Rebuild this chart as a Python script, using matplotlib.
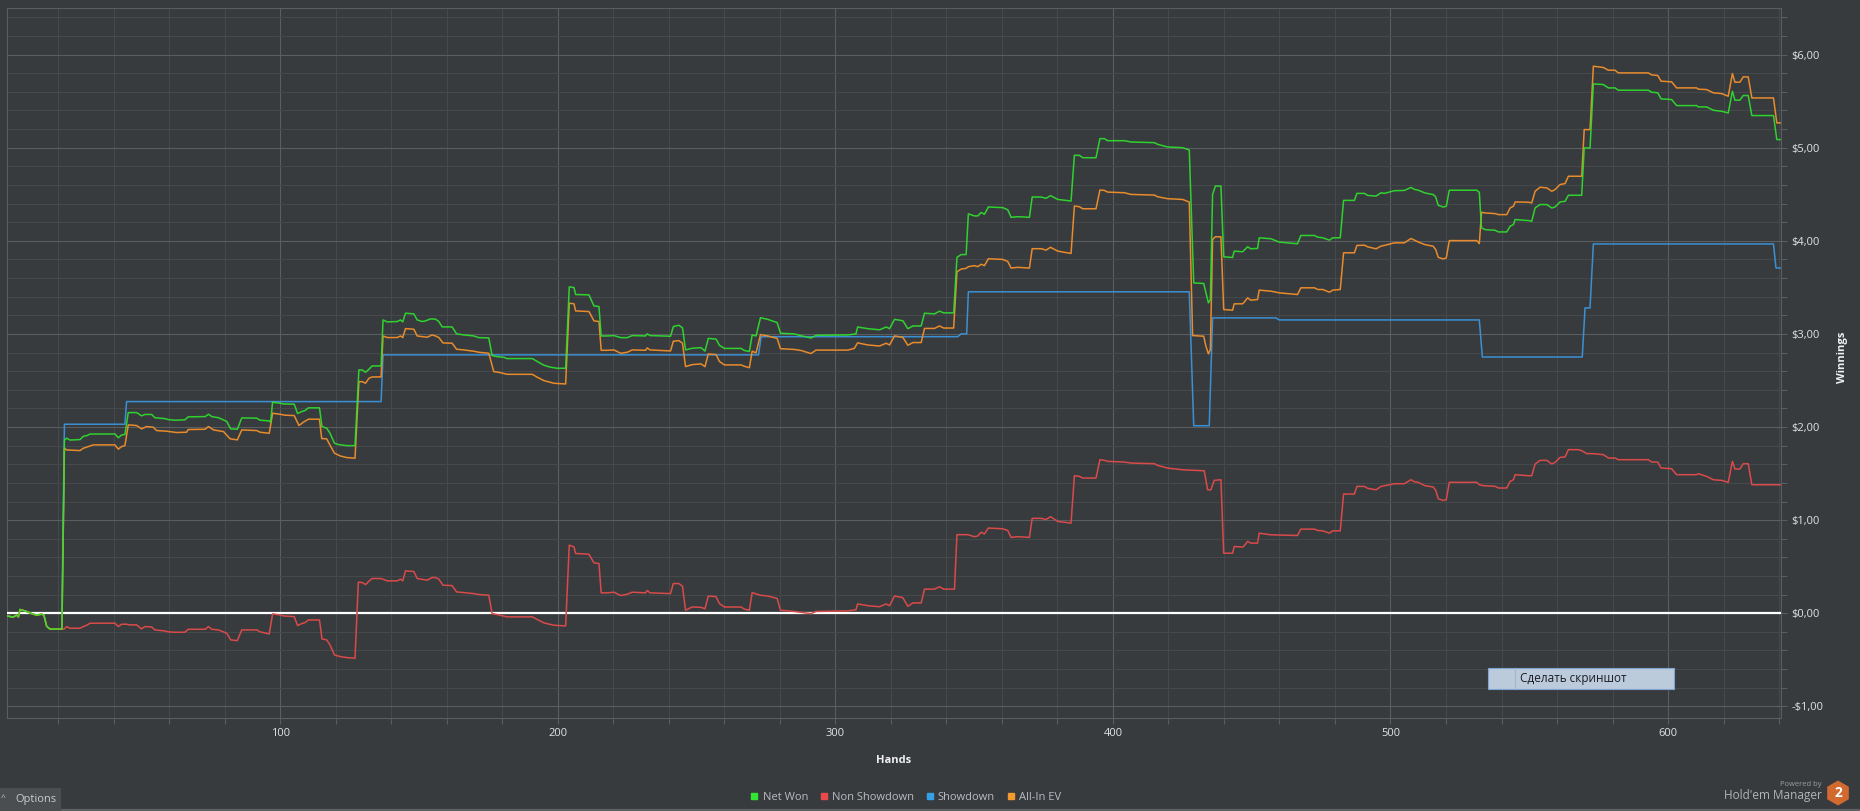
import matplotlib
matplotlib.use('Agg')
from matplotlib import pyplot as plt
from matplotlib.ticker import MultipleLocator, FuncFormatter
from matplotlib.lines import Line2D
from matplotlib.patches import Rectangle, RegularPolygon

plt.rcParams['font.family'] = ['Open Sans', 'DejaVu Sans']

# hands / cumulative winnings ($)
net_won_hands = [1.4, 3.8, 5.0, 5.6, 6.2, 8.0, 11.0, 12.2, 14.0, 14.8, 15.8, 17.0, 21.3,
    22.2, 23.0, 24.2, 27.8, 29.0, 30.5, 31.4, 40.4, 41.6, 42.8, 44.0, 45.2, 48.2, 50.0, 51.2, 53.6,
    54.8, 58.4, 59.6, 62.0, 65.6, 66.8, 72.9, 74.1, 75.3, 77.7, 80.7, 82.1, 84.5, 86.1, 91.5, 92.7,
    96.0, 96.5, 97.2, 99.9, 101.1, 105.0, 106.2, 107.7, 108.9, 110.1, 114.1, 115.0, 116.7, 117.9,
    119.5, 120.9, 123.9, 126.9,
    128.3, 129.5, 130.7, 131.9, 133.1, 136.3, 137.0, 138.5, 142.1, 143.3, 144.1, 145.1, 148.1, 149.3,
    151.1, 152.3, 154.1, 155.9, 157.1, 158.3, 161.9, 163.5, 166.1, 169.7, 171.5, 175.1, 176.3, 178.1,
    180.5, 181.7, 190.8, 192.6, 195.0, 197.4, 199.8, 202.8, 204.1, 205.8, 206.4, 211.2, 213.0, 214.8,
    215.6, 217.8, 220.2, 222.6, 225.0, 226.8, 231.6, 232.2, 233.2, 240.6, 241.6, 243.6, 244.9, 246.0,
    248.4,
    251.6, 253.0, 254.2, 257.0, 258.2, 260.0, 266.0, 267.2, 269.0, 270.0, 271.4, 273.0, 275.6, 279.0,
    280.2, 285.2, 287.6, 291.2, 293.0, 304.4, 307.4, 308.0, 311.7, 315.9, 318.3, 319.5, 321.3, 324.3,
    326.1, 327.9, 330.9, 332.1, 335.7, 337.5, 339.0, 342.6, 343.8, 345.3, 347.1, 347.9, 350.1, 351.3,
    352.5, 353.7, 355.1, 360.3, 362.1, 363.3, 365.7, 369.9, 370.9, 374.1, 375.9, 377.5,
    380.1, 384.9, 386.1, 387.9, 389.1, 393.9, 395.3, 396.9, 398.1, 404.1, 406.5, 414.9, 416.1, 419.7,
    425.1, 427.5, 429.1, 432.7, 433.5, 434.4, 435.1, 435.9, 436.9, 438.9, 439.9, 443.1, 443.7, 446.7,
    447.3, 448.5, 449.7, 452.1, 452.7, 456.9, 459.9, 466.5, 467.7, 472.6, 473.8, 475.6, 478.0, 479.2,
    481.9, 483.1, 487.0, 487.9, 490.6, 491.8, 494.8, 496.6, 497.8, 501.4, 505.0, 507.4, 508.6,
    510.0, 512.4, 515.4, 516.3, 517.2, 519.0, 520.1, 521.2, 531.1, 532.0, 532.8, 534.1, 537.7, 538.9,
    541.9, 543.1, 544.3, 544.9, 549.7, 550.9, 552.1, 553.9, 556.3, 558.1, 559.3, 561.1, 562.9, 564.1,
    568.9, 569.8, 571.9, 573.1, 576.7, 578.5, 580.9, 582.1, 592.9, 594.1, 596.3, 597.5, 601.3, 603.1,
    610.3, 610.9, 613.9, 616.3, 619.3, 621.7, 623.2, 624.1, 625.9, 627.1, 628.9, 630.2, 638.0, 639.2,
    640.4]
net_won = [-0.03, -0.04, -0.02, -0.04, 0.04, 0.025, -0.01, -0.02, -0.01, -0.02, -0.14, -0.17, -0.17,
    1.86, 1.88, 1.86, 1.865, 1.90, 1.91, 1.925, 1.925, 1.885, 1.915, 1.92, 2.155, 2.155, 2.12, 2.135, 2.135,
    2.10, 2.09, 2.08, 2.073, 2.077, 2.109, 2.112, 2.137, 2.112, 2.10, 2.06, 1.98, 1.976, 2.098, 2.095, 2.073,
    2.066, 2.05, 2.266, 2.256, 2.248, 2.245, 2.145, 2.166, 2.177, 2.206, 2.206, 2.005, 1.987, 1.933,
    1.826, 1.812, 1.80, 1.80,
    2.613, 2.613, 2.588, 2.62, 2.656, 2.656, 3.15, 3.129, 3.133, 3.15, 3.129, 3.222, 3.215, 3.15,
    3.133, 3.14, 3.161, 3.158, 3.133, 3.075, 3.075, 3.0, 2.989, 2.978, 2.96, 2.957, 2.767, 2.756,
    2.749, 2.735, 2.735, 2.703, 2.663, 2.642, 2.631, 2.631, 3.505, 3.498, 3.423, 3.419, 3.30, 3.294,
    2.978, 2.978, 2.982, 2.96, 2.96, 2.982, 2.978, 3.0, 2.982, 2.975, 3.079, 3.093, 3.065, 2.828,
    2.846,
    2.852, 2.815, 2.952, 2.944, 2.878, 2.844, 2.844, 2.822, 2.811, 2.989, 2.978, 3.174, 3.156, 3.122,
    3.007, 3.0, 2.981, 2.956, 2.985, 2.989, 3.0, 3.074, 3.056, 3.044, 3.074, 3.056, 3.156, 3.141,
    3.056, 3.085, 3.085, 3.222, 3.215, 3.244, 3.226, 3.226, 3.822, 3.852, 3.852, 4.289, 4.267, 4.267,
    4.304, 4.285, 4.363, 4.356, 4.333, 4.252, 4.259, 4.252, 4.47, 4.47, 4.456, 4.485,
    4.444, 4.427, 4.918, 4.918, 4.892, 4.892, 5.097, 5.097, 5.075, 5.075, 5.061, 5.054, 5.036, 5.007,
    5.0, 4.975, 3.548, 3.541, 3.441, 3.333, 3.369, 4.498, 4.588, 4.588, 3.828, 3.821, 3.889, 3.882,
    3.9, 3.935, 3.914, 3.918, 4.032, 4.022, 3.986, 3.968, 4.057, 4.057, 4.039, 4.032, 4.007, 4.032,
    4.032, 4.434, 4.434, 4.509, 4.509, 4.487, 4.48, 4.516, 4.509, 4.538, 4.541, 4.573, 4.552,
    4.543, 4.514, 4.496, 4.471, 4.381, 4.363, 4.37, 4.543, 4.543, 4.521, 4.138, 4.12, 4.113, 4.095,
    4.095, 4.156, 4.174, 4.228, 4.217, 4.21, 4.353, 4.389, 4.389, 4.353, 4.363, 4.417, 4.424, 4.489,
    4.489, 4.997, 4.997, 5.685, 5.678, 5.642, 5.642, 5.617, 5.617, 5.596, 5.589, 5.524, 5.517, 5.452,
    5.452, 5.438, 5.438, 5.402, 5.391, 5.373, 5.606, 5.51, 5.51, 5.56, 5.56, 5.345, 5.345, 5.087,
    5.087]

non_sd_hands = [1.4, 3.8, 5.0, 5.6, 6.2, 8.0, 11.0, 12.2, 14.0, 14.8, 15.8, 17.0, 21.3,
    22.2, 23.0, 24.2, 27.8, 29.0, 30.5, 31.4, 40.4, 41.6, 42.8, 44.6, 45.8, 48.2, 50.0, 51.2, 53.6,
    54.8, 58.4, 59.6, 62.0, 65.6, 66.8, 72.9, 74.1, 75.3, 77.7, 80.7, 82.1, 84.5, 86.1, 91.5, 92.7,
    96.0, 97.2, 99.9, 101.1, 105.0, 106.2, 107.7, 108.9, 110.1, 114.1, 115.0, 116.7, 117.9, 119.5,
    121.5, 123.9, 126.9, 128.1,
    129.5, 130.7, 131.9, 133.1, 136.3, 138.5, 142.1, 143.3, 144.1, 145.1, 148.1, 149.3, 152.9, 154.7,
    155.9, 157.1, 158.6, 161.9, 163.5, 166.1, 169.7, 171.5, 175.1, 176.3, 178.1, 181.7, 190.8, 192.6,
    195.0, 198.6, 202.8, 204.1, 205.8, 206.4, 211.2, 213.0, 214.8, 215.6, 217.8, 220.2, 222.6, 225.0,
    226.8, 231.6, 232.2, 233.2, 240.6, 241.6, 243.6, 244.9, 246.0, 248.4,
    251.6, 253.0, 254.2, 257.0, 258.2, 260.0, 266.0, 267.2, 269.0, 270.0, 273.0, 275.6, 279.0, 280.2,
    285.2, 291.2, 293.0, 304.4, 307.4, 308.0, 311.7, 315.9, 318.3, 319.5, 321.3, 324.3, 326.1, 327.9,
    330.9, 332.1, 335.7, 337.5, 339.0, 342.9, 343.8, 347.7, 350.1, 351.3, 352.5, 353.7, 355.1, 360.3,
    362.1, 363.3, 365.7, 369.9, 370.9, 374.1, 375.9, 377.5,
    380.1, 384.9, 386.1, 387.9, 389.1, 393.9, 395.3, 396.9, 398.1, 404.1, 406.5, 414.9, 416.1, 419.7,
    425.1, 432.9, 434.1, 435.3, 436.5, 438.9, 439.9, 443.1, 443.7, 446.7, 447.3, 448.5, 449.7, 452.1,
    452.7, 456.9, 466.5, 467.7, 472.6, 473.8, 475.6, 478.0, 479.2, 481.9, 483.1, 487.0, 487.9, 490.6,
    491.8, 494.8, 496.6, 497.8, 501.4, 505.0, 507.4, 508.6,
    510.0, 512.4, 515.4, 516.3, 517.2, 519.0, 520.1, 521.2, 531.1, 532.0, 533.5, 537.7, 538.9, 541.9,
    543.1, 544.3, 544.9, 549.7, 550.9, 552.1, 553.9, 556.3, 558.1, 559.3, 561.1, 562.9, 564.1, 567.7,
    568.9, 570.7, 573.1, 576.7, 578.5, 580.9, 582.1, 592.9, 594.1, 596.3, 597.5, 601.3, 603.1, 610.3,
    610.9, 613.9, 616.3, 619.3, 621.7, 623.2, 624.1, 625.9, 627.1, 628.9, 630.2, 640.4]
non_sd = [-0.03, -0.04, -0.02, -0.04, 0.04, 0.025, -0.01, -0.02, -0.01, -0.02, -0.14, -0.17, -0.17,
    -0.168, -0.143, -0.161, -0.161, -0.143, -0.125, -0.107, -0.107, -0.143, -0.118, -0.118, -0.125,
    -0.125, -0.168, -0.143, -0.147, -0.179, -0.19, -0.2, -0.204, -0.204, -0.172, -0.172, -0.143, -0.172,
    -0.179, -0.215, -0.286, -0.294, -0.179, -0.179, -0.2, -0.222, -0.007, -0.018, -0.029, -0.036, -0.132,
    -0.111, -0.1, -0.072, -0.072, -0.276, -0.286, -0.34, -0.448, -0.465, -0.476, -0.483, 0.333,
    0.33, 0.308, 0.344, 0.373, 0.373, 0.348, 0.348, 0.366, 0.348, 0.455, 0.448, 0.373, 0.355, 0.384,
    0.384, 0.366, 0.301, 0.297, 0.229, 0.222, 0.211, 0.201, 0.194, -0.004, -0.014, -0.039, -0.039, -0.068,
    -0.104, -0.129, -0.136, 0.731, 0.713, 0.642, 0.634, 0.541, 0.534, 0.219, 0.219, 0.226, 0.19, 0.204,
    0.226, 0.219, 0.244, 0.219, 0.211, 0.319, 0.319, 0.29, 0.032, 0.068,
    0.063, 0.048, 0.185, 0.178, 0.104, 0.067, 0.067, 0.044, 0.033, 0.222, 0.193, 0.185, 0.159, 0.033,
    0.019, -0.004, 0.019, 0.026, 0.037, 0.1, 0.081, 0.07, 0.1, 0.081, 0.185, 0.167, 0.074, 0.111,
    0.111, 0.259, 0.259, 0.285, 0.259, 0.259, 0.844, 0.844, 0.822, 0.83, 0.87, 0.852, 0.915, 0.907,
    0.889, 0.815, 0.822, 0.815, 1.019, 1.019, 1.007, 1.037,
    0.986, 0.968, 1.477, 1.47, 1.452, 1.452, 1.649, 1.642, 1.631, 1.624, 1.613, 1.606, 1.588, 1.559,
    1.541, 1.53, 1.326, 1.326, 1.427, 1.434, 0.645, 0.645, 0.717, 0.71, 0.724, 0.771, 0.753, 0.753,
    0.86, 0.842, 0.835, 0.903, 0.903, 0.889, 0.885, 0.86, 0.885, 0.885, 1.28, 1.28, 1.362, 1.362,
    1.341, 1.326, 1.362, 1.369, 1.391, 1.391, 1.434, 1.412,
    1.406, 1.37, 1.356, 1.32, 1.23, 1.212, 1.219, 1.406, 1.406, 1.38, 1.37, 1.363, 1.345, 1.345,
    1.416, 1.434, 1.488, 1.477, 1.477, 1.603, 1.642, 1.642, 1.603, 1.62, 1.674, 1.678, 1.757, 1.757,
    1.746, 1.714, 1.714, 1.703, 1.667, 1.667, 1.649, 1.649, 1.624, 1.624, 1.56, 1.552, 1.488, 1.488,
    1.499, 1.47, 1.434, 1.427, 1.406, 1.631, 1.549, 1.549, 1.606, 1.606, 1.38, 1.38]

sd_hands = [1.4, 21.3, 22.2, 44.0, 44.6, 136.3, 137.0, 272.3, 273.2, 344.1, 345.3, 347.3, 347.9,
    427.5, 429.1, 434.7, 435.9, 458.7, 459.9, 532.0, 533.1, 569.1, 570.1, 571.9, 573.1, 638.0,
    638.9, 640.4]
sd = [0.0, 0.0, 2.03, 2.03, 2.273, 2.273, 2.775, 2.775, 2.97, 2.97, 3.0, 3.0, 3.452,
    3.452, 2.014, 2.014, 3.172, 3.172, 3.15, 3.15, 2.752, 2.752, 3.279, 3.279, 3.966, 3.966,
    3.708, 3.708]

allin_ev_hands = [1.4, 3.8, 5.0, 5.6, 6.2, 8.0, 11.0, 12.2, 14.0, 14.8, 15.8, 17.0, 21.3,
    22.2, 23.0, 27.8, 29.0, 30.8, 32.6, 40.4, 41.6, 42.8, 44.0, 45.2, 48.2, 50.0, 51.8, 54.2, 55.4,
    59.0, 62.6, 66.2, 66.8, 72.9, 74.1, 75.9, 79.5, 81.9, 84.5, 86.1, 91.5, 92.7, 96.0, 97.2, 99.9,
    101.7, 105.0, 106.7, 108.3, 110.1, 114.1, 114.9, 116.7, 117.9, 119.5, 121.5, 123.9, 126.9,
    128.3, 129.5, 130.7, 131.9, 133.1, 136.3, 137.0, 138.5, 142.1, 143.3, 144.1, 145.1, 148.1, 149.3,
    152.9, 154.7, 155.9, 157.1, 158.6, 161.9, 163.5, 166.1, 169.7, 171.5, 175.1, 176.9, 178.7, 181.7,
    190.8, 192.6, 195.0, 198.6, 202.8, 204.1, 205.8, 206.4, 211.2, 213.0, 214.8, 215.6, 217.8, 220.2,
    222.6, 225.0, 226.8, 231.6, 232.2, 233.2, 240.6, 241.6, 243.6, 244.9, 246.0, 248.4,
    251.6, 253.0, 254.2, 257.0, 258.2, 260.0, 266.0, 267.2, 269.0, 270.0, 271.4, 273.0, 275.6, 279.0,
    280.2, 285.2, 287.6, 291.2, 293.0, 304.4, 306.8, 308.0, 311.7, 315.9, 318.3, 319.5, 321.3, 324.3,
    326.1, 327.9, 330.9, 332.1, 335.7, 337.5, 339.0, 342.6, 343.8, 345.3, 347.1, 347.9, 350.1, 351.3,
    352.5, 353.7, 355.1, 360.3, 362.1, 363.3, 365.7, 369.9, 370.9, 374.1, 375.9, 377.5,
    380.1, 384.9, 386.1, 387.9, 389.1, 393.9, 395.3, 396.9, 398.1, 404.1, 406.5, 414.9, 416.1, 419.7,
    425.1, 427.5, 428.7, 432.7, 433.5, 434.4, 435.1, 435.9, 436.9, 438.9, 439.9, 443.1, 443.7, 446.7,
    447.3, 448.5, 449.7, 452.1, 452.7, 456.9, 459.9, 466.5, 467.7, 472.6, 473.8, 475.6, 478.0, 479.2,
    481.9, 483.1, 487.0, 487.9, 490.6, 491.8, 494.8, 496.6, 497.8, 501.4, 505.0, 507.4, 508.6,
    510.0, 512.4, 515.4, 516.3, 517.2, 519.0, 520.1, 521.2, 531.1, 532.0, 532.8, 534.1, 537.7, 538.9,
    541.9, 543.1, 544.3, 544.9, 549.7, 550.9, 552.1, 553.9, 556.3, 558.1, 559.3, 561.1, 562.9, 564.1,
    568.9, 569.8, 571.9, 573.1, 576.7, 578.5, 580.9, 582.1, 592.9, 594.1, 596.3, 597.5, 601.3, 603.1,
    610.3, 610.9, 613.9, 616.3, 619.3, 621.7, 623.2, 624.1, 625.9, 627.1, 628.9, 630.2, 638.0, 639.2,
    640.4]
allin_ev = [-0.03, -0.04, -0.02, -0.04, 0.04, 0.025, -0.01, -0.02, -0.01, -0.02, -0.14, -0.17, -0.17,
    1.772, 1.754, 1.747, 1.772, 1.79, 1.808, 1.808, 1.762, 1.79, 1.80, 2.023, 2.016, 1.98, 2.005, 1.998,
    1.962, 1.955, 1.941, 1.944, 1.973, 1.976, 2.005, 1.969, 1.951, 1.873, 1.862, 1.969, 1.962, 1.944,
    1.933, 2.148, 2.137, 2.127, 2.123, 2.016, 2.052, 2.084, 2.084, 1.876, 1.873, 1.805, 1.719, 1.69,
    1.672, 1.665,
    2.487, 2.487, 2.47, 2.523, 2.538, 2.538, 2.978, 2.961, 2.961, 2.978, 2.961, 3.057, 3.05, 2.978,
    2.964, 2.989, 2.978, 2.961, 2.903, 2.9, 2.835, 2.828, 2.814, 2.803, 2.792, 2.595, 2.588, 2.566,
    2.566, 2.534, 2.498, 2.47, 2.462, 3.33, 3.323, 3.247, 3.24, 3.14, 3.133, 2.824, 2.824, 2.828,
    2.792, 2.803, 2.828, 2.824, 2.849, 2.828, 2.817, 2.921, 2.928, 2.9, 2.649, 2.67,
    2.678, 2.648, 2.785, 2.778, 2.704, 2.667, 2.667, 2.652, 2.637, 2.815, 2.796, 2.993, 2.978, 2.952,
    2.841, 2.833, 2.822, 2.789, 2.826, 2.826, 2.844, 2.904, 2.881, 2.87, 2.9, 2.881, 2.978, 2.963,
    2.878, 2.907, 2.907, 3.059, 3.059, 3.085, 3.063, 3.063, 3.667, 3.696, 3.704, 3.722, 3.733, 3.722,
    3.748, 3.733, 3.807, 3.8, 3.778, 3.707, 3.715, 3.707, 3.915, 3.915, 3.9, 3.93,
    3.889, 3.864, 4.373, 4.366, 4.344, 4.344, 4.545, 4.541, 4.523, 4.516, 4.498, 4.491, 4.473, 4.452,
    4.444, 4.416, 2.982, 2.975, 2.867, 2.785, 2.832, 4.014, 4.043, 4.043, 3.262, 3.254, 3.323, 3.323,
    3.341, 3.387, 3.362, 3.369, 3.47, 3.459, 3.441, 3.423, 3.495, 3.495, 3.477, 3.477, 3.448, 3.47,
    3.477, 3.871, 3.871, 3.95, 3.953, 3.935, 3.914, 3.943, 3.95, 3.978, 3.978, 4.025, 4.007,
    3.987, 3.959, 3.941, 3.905, 3.823, 3.805, 3.816, 4.002, 4.002, 3.97, 4.306, 4.299, 4.292, 4.281,
    4.281, 4.353, 4.371, 4.417, 4.414, 4.407, 4.532, 4.575, 4.568, 4.532, 4.55, 4.604, 4.614, 4.693,
    4.693, 5.194, 5.194, 5.875, 5.861, 5.832, 5.832, 5.803, 5.803, 5.782, 5.775, 5.714, 5.707, 5.642,
    5.642, 5.628, 5.624, 5.589, 5.581, 5.553, 5.796, 5.703, 5.703, 5.76, 5.76, 5.534, 5.534, 5.266,
    5.266]

legend_labels = ['Net Won', 'Non Showdown', 'Showdown', 'All-In EV']
legend_colors = ['#33e633', '#ea4a4a', '#35a0e6', '#f39a2e']

W, H = 1860, 811
BG = '#383b3e'


def fpos(x, y):
    # screenshot pixel -> figure fraction
    return x / W, 1 - y / H


def money(v, pos=None):
    s = '{:.2f}'.format(abs(v)).replace('.', ',')
    return ('-$' if v < -1e-9 else '$') + s


fig = plt.figure(figsize=(W / 100, H / 100), dpi=100)
fig.patch.set_facecolor(BG)

l, b = fpos(6.7, 718)
r, t = fpos(1780.7, 8)
ax = fig.add_axes((l, b, r - l, t - b))
ax.set_facecolor(BG)

ax.set_xlim(1.4, 640.6)
ax.set_ylim(-1.125, 6.5)

ax.xaxis.set_major_locator(MultipleLocator(100))
ax.xaxis.set_minor_locator(MultipleLocator(20))
ax.yaxis.set_major_locator(MultipleLocator(1))
ax.yaxis.set_minor_locator(MultipleLocator(0.2))
ax.yaxis.set_major_formatter(FuncFormatter(money))
ax.yaxis.tick_right()

ax.grid(which='major', color='#5b5e61', linewidth=0.8)
ax.grid(which='minor', color='#46494c', linewidth=0.8)
ax.set_axisbelow(True)

ax.tick_params(which='both', colors='#5b5e61', length=4, width=0.8, labelsize=8, pad=3.5)
ax.tick_params(axis='both', which='major', labelcolor='#e2e2e2')

for sp in ax.spines.values():
    sp.set_color('#5b5e61')
    sp.set_linewidth(0.8)

ax.plot(sd_hands, sd, color='#3a90d4', linewidth=1.1, zorder=3)
ax.axhline(0, color='white', linewidth=1.6, zorder=3.5)
ax.plot(non_sd_hands, non_sd, color='#d94a4a', linewidth=1.1, zorder=4)
ax.plot(allin_ev_hands, allin_ev, color='#e88b2c', linewidth=1.1, zorder=4)
ax.plot(net_won_hands, net_won, color='#2ee22e', linewidth=1.1, alpha=0.9, zorder=5)

ax.set_xlabel('Hands', color='#f0f0f0', fontsize=8, fontweight='bold')
ax.xaxis.set_label_coords(0.5, -0.052)
ax.yaxis.set_label_position('right')
ax.set_ylabel('Winnings', color='#f0f0f0', fontsize=8, fontweight='bold', rotation=90)
ax.yaxis.set_label_coords(1.032, 0.508)

handles = [Line2D([], [], marker='s', linestyle='none', markersize=5, color=c) for c in legend_colors]
fig.legend(handles, legend_labels, loc='center', bbox_to_anchor=fpos(906, 797), ncol=4,
           frameon=False, fontsize=8, labelcolor='#b9bcc0', handlelength=0.6,
           handletextpad=0.45, columnspacing=1.1, borderaxespad=0)

# screenshot button over the plot
bx, by = fpos(1488, 689)
fig.patches.append(Rectangle((bx, by), 186 / W, 21 / H, transform=fig.transFigure,
                             facecolor='#bccbdb', edgecolor='#7fa6d2', linewidth=0.8, zorder=10))
fig.add_artist(Line2D([1515 / W, 1515 / W], [by, by + 21 / H], transform=fig.transFigure,
                      color='#a6b6c8', linewidth=0.8, zorder=11))
fig.text(*fpos(1520, 678.5), 'Сделать скриншот', fontsize=8.5, color='#1c1c24',
         va='center', ha='left', zorder=12)

# options tab bottom-left
ox, oy = fpos(0, 811)
fig.patches.append(Rectangle((ox, oy), 61 / W, 23 / H, transform=fig.transFigure,
                             facecolor='#4b4e51', edgecolor='none', zorder=10))
fig.text(*fpos(1, 799), '^', fontsize=6, color='#c9cbcd', va='center', ha='left', zorder=11)
fig.text(*fpos(15, 799.5), 'Options', fontsize=8, color='#c9cbcd', va='center', ha='left', zorder=11)

# bottom border
fig.add_artist(Line2D([0, 1], [1.2 / H, 1.2 / H], transform=fig.transFigure,
                      color='#5d6164', linewidth=1.6))

# logo
fig.text(*fpos(1822, 784), 'Powered by', fontsize=5.5, color='#9a9ea2', ha='right', va='center')
fig.text(*fpos(1822, 796), "Hold'em Manager", fontsize=8.5, color='#b2b5b8', ha='right', va='center')
hx, hy = fpos(1838, 793)
fig.patches.append(RegularPolygon((1838, H - 793), numVertices=6, radius=12.5,
                                  transform=None, facecolor='#d2692e', edgecolor='none'))
fig.text(hx, hy, '2', fontsize=10, color='white', fontweight='bold', ha='center', va='center')

fig.savefig('out.png', dpi=100, facecolor=BG)
